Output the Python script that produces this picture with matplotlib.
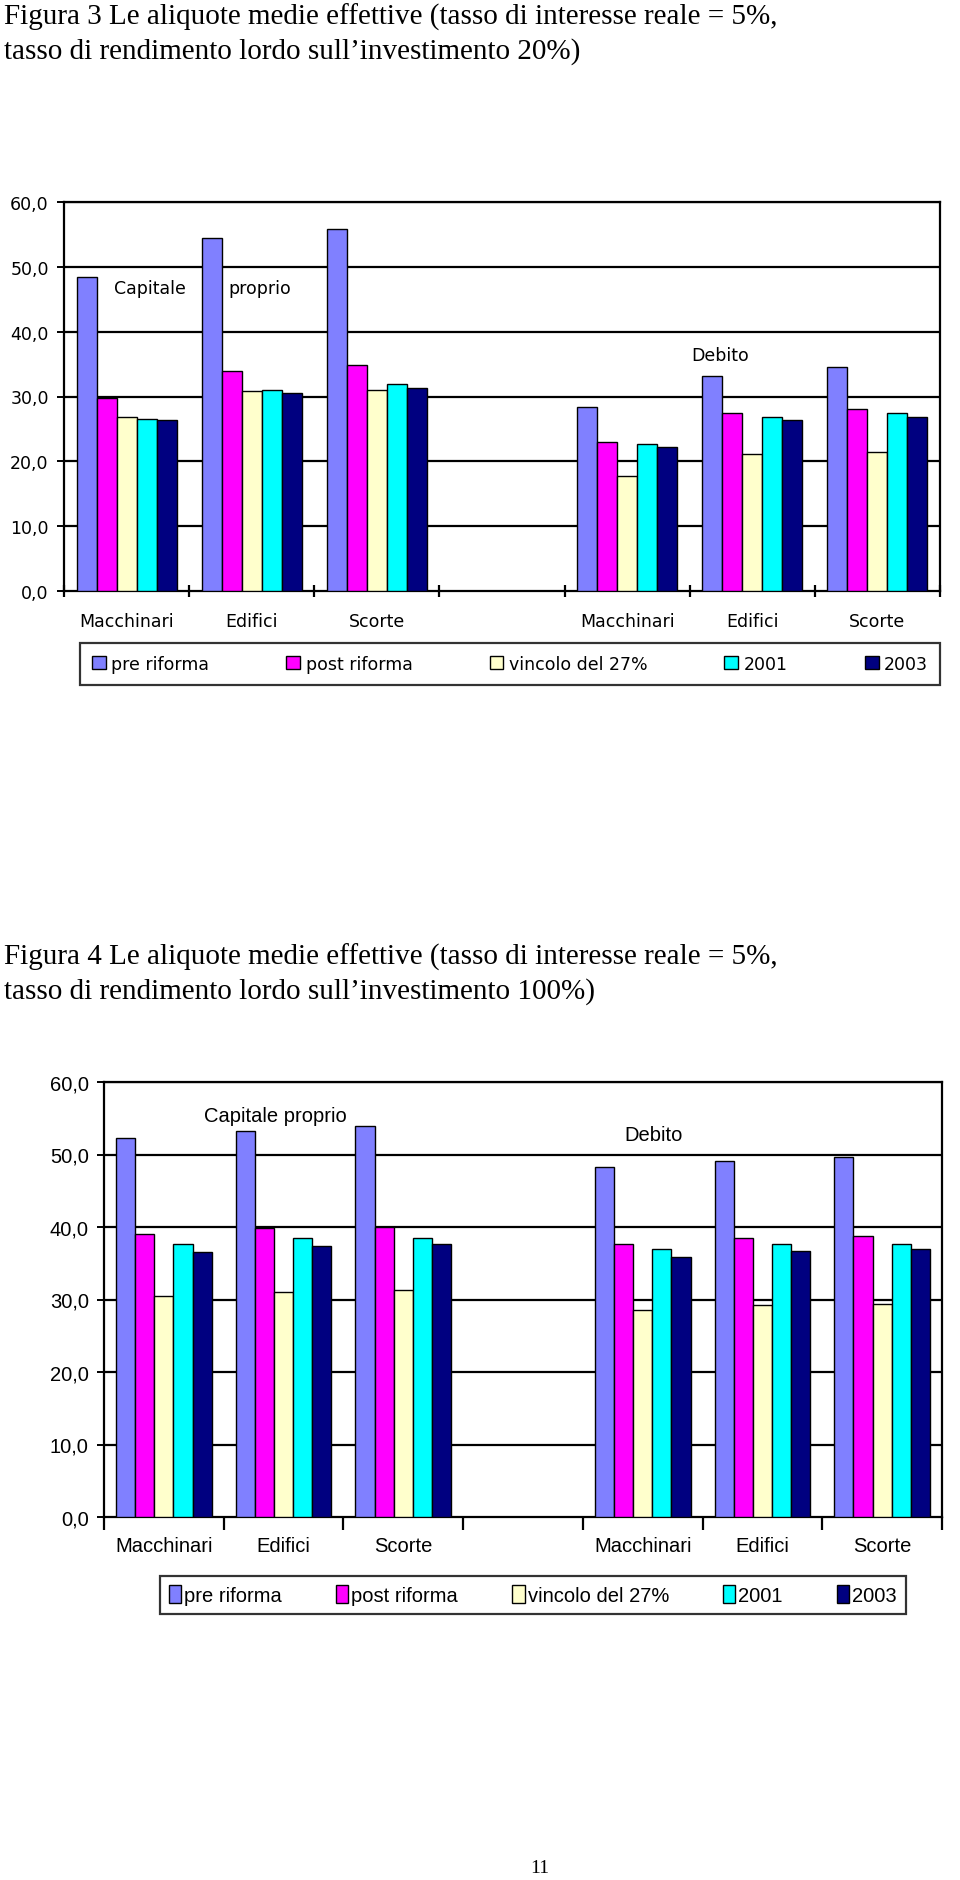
import numpy as np
import matplotlib
matplotlib.use('Agg')
import matplotlib.pyplot as plt

# categories and series
categories = ['Macchinari', 'Edifici', 'Scorte']
series = ['pre riforma', 'post riforma', 'vincolo del 27%', '2001', '2003']
colors = ['#8080FF', '#FF00FF', '#FFFFCC', '#00FFFF', '#000080']
yticks = [0, 10, 20, 30, 40, 50, 60]

# Figura 3 values: Capitale proprio (Macchinari, Edifici, Scorte), then Debito (same)
fig3_pre = [48.5, 54.4, 55.8, 28.4, 33.1, 34.5]
fig3_post = [29.7, 33.9, 34.9, 23.0, 27.5, 28.1]
fig3_vinc = [26.9, 30.8, 31.0, 17.7, 21.2, 21.5]
fig3_2001 = [26.6, 31.0, 31.9, 22.7, 26.9, 27.5]
fig3_2003 = [26.4, 30.5, 31.3, 22.2, 26.4, 26.9]

# Figura 4 values
fig4_pre = [52.3, 53.3, 53.9, 48.3, 49.1, 49.7]
fig4_post = [39.1, 39.9, 40.0, 37.7, 38.5, 38.7]
fig4_vinc = [30.5, 31.0, 31.3, 28.6, 29.2, 29.4]
fig4_2001 = [37.7, 38.5, 38.5, 36.9, 37.7, 37.7]
fig4_2003 = [36.6, 37.4, 37.7, 35.9, 36.7, 36.9]

W, H = 960, 1881
fig = plt.figure(figsize=(W / 100, H / 100), dpi=100)


def px_axes(left, right, top, bottom):
    return fig.add_axes([left / W, 1 - bottom / H, (right - left) / W, (bottom - top) / H])


def draw_chart(ax, data, font, fsize, tick_dir, label_pad):
    x = np.array([0, 1, 2, 4, 5, 6])
    bw = 0.16
    handles = []
    for k, vals in enumerate(data):
        b = ax.bar(x + (k - 2) * bw, vals, width=bw, color=colors[k],
                   edgecolor='black', linewidth=1.0, zorder=3, label=series[k])
        handles.append(b)
    ax.set_xlim(-0.5, 6.5)
    ax.set_ylim(0, 60)
    ax.set_yticks(yticks)
    ax.set_yticklabels([f'{v},0' for v in yticks], fontfamily=font, fontsize=fsize)
    for v in yticks[1:]:
        ax.axhline(v, color='black', linewidth=1.6, zorder=2)
    # boundaries as major ticks, labels as minor ticks
    ax.set_xticks(np.arange(-0.5, 7, 1.0))
    ax.set_xticklabels([])
    ax.set_xticks(np.arange(7), minor=True)
    ax.set_xticklabels(categories + [''] + categories, minor=True,
                       fontfamily=font, fontsize=fsize)
    ax.tick_params(axis='x', which='major', direction=tick_dir, length=9, width=1.6)
    ax.tick_params(axis='x', which='minor', length=0, pad=label_pad)
    ax.tick_params(axis='y', direction='out', length=5, width=1.4, pad=6)
    for s in ax.spines.values():
        s.set_linewidth(1.6)
    return handles


# ---- Figura 3 ----
fig.text(4 / W, 1 - 25 / H, 'Figura 3 Le aliquote medie effettive (tasso di interesse reale = 5%,',
         fontfamily='Liberation Serif', fontsize=21, va='baseline')
fig.text(4 / W, 1 - 59 / H, 'tasso di rendimento lordo sull\u2019investimento 20%)',
         fontfamily='Liberation Serif', fontsize=21, va='baseline')

ax1 = px_axes(64, 940, 203, 592)
h1 = draw_chart(ax1, [fig3_pre, fig3_post, fig3_vinc, fig3_2001, fig3_2003],
                'DejaVu Sans', 12.5, 'inout', 15)
ax1.text(-0.1, 46.7, 'Capitale', fontfamily='DejaVu Sans', fontsize=12.5, va='center', zorder=1)
ax1.text(0.81, 46.7, 'proprio', fontfamily='DejaVu Sans', fontsize=12.5, va='center', zorder=1)
ax1.text(4.74, 36.4, 'Debito', fontfamily='DejaVu Sans', fontsize=12.5, va='center', ha='center', zorder=1)
leg1 = fig.legend(handles=h1, labels=series, loc='lower left',
                  bbox_to_anchor=(80 / W, 1 - 686 / H, 860 / W, 40 / H), mode='expand',
                  borderaxespad=0, ncol=5, frameon=True, fancybox=False, edgecolor='black',
                  handlelength=0.8, handleheight=0.8, handletextpad=0.3,
                  borderpad=0.7, prop={'family': 'DejaVu Sans', 'size': 12.5})
leg1.get_frame().set_linewidth(1.6)

# ---- Figura 4 ----
fig.text(4 / W, 1 - 965 / H, 'Figura 4 Le aliquote medie effettive (tasso di interesse reale = 5%,',
         fontfamily='Liberation Serif', fontsize=21, va='baseline')
fig.text(4 / W, 1 - 999 / H, 'tasso di rendimento lordo sull\u2019investimento 100%)',
         fontfamily='Liberation Serif', fontsize=21, va='baseline')

ax2 = px_axes(104, 942, 1083, 1518)
h2 = draw_chart(ax2, [fig4_pre, fig4_post, fig4_vinc, fig4_2001, fig4_2003],
                'Liberation Sans', 14.5, 'out', 14)
ax2.text(0.93, 55.4, 'Capitale proprio', fontfamily='Liberation Sans', fontsize=14.5,
         va='center', ha='center', zorder=1)
ax2.text(4.09, 52.7, 'Debito', fontfamily='Liberation Sans', fontsize=14.5,
         va='center', ha='center', zorder=1)
leg2 = fig.legend(handles=h2, labels=series, loc='lower left',
                  bbox_to_anchor=(160 / W, 1 - 1615 / H, 746 / W, 36 / H), mode='expand',
                  borderaxespad=0, ncol=5, frameon=True, fancybox=False, edgecolor='black',
                  handlelength=0.6, handleheight=1.0, handletextpad=0.15,
                  borderpad=0.45, prop={'family': 'Liberation Sans', 'size': 14.5})
leg2.get_frame().set_linewidth(1.6)

fig.text(540 / W, 1 - 1873 / H, '11', fontfamily='Liberation Serif', fontsize=14,
         ha='center', va='baseline')

fig.savefig('out.png', dpi=100, facecolor='white')
